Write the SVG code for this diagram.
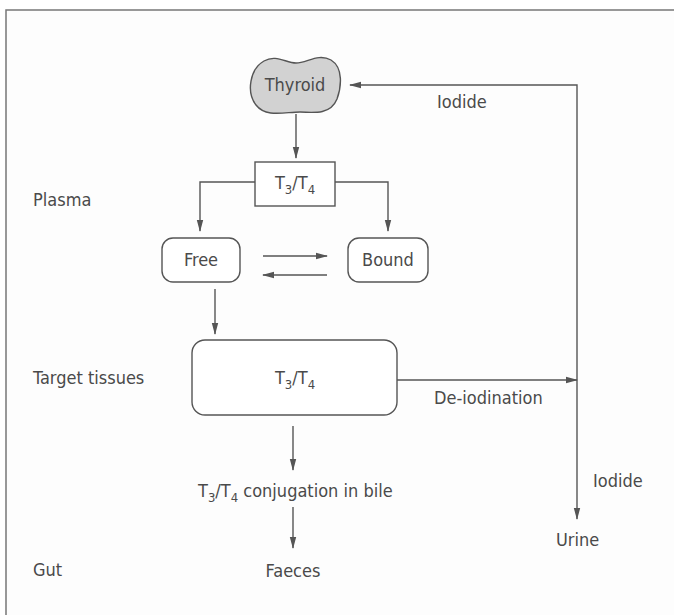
<svg xmlns="http://www.w3.org/2000/svg" width="674" height="615" viewBox="0 0 674 615">
<defs>
<marker id="ah" markerWidth="12" markerHeight="8" refX="11" refY="4" orient="auto" markerUnits="userSpaceOnUse">
<path d="M0,0.8 L12,4 L0,7.2 Z" fill="#555"/>
</marker>
<style>
text{font-family:"Liberation Sans Narrow","DejaVu Sans Condensed","Liberation Sans",sans-serif;font-size:18px;fill:#4a4a4a}
.c{text-anchor:middle}
.ln{fill:none;stroke:#555;stroke-width:1.4}
.bx{fill:#fff;stroke:#555;stroke-width:1.4}
.sub{font-size:13px}
</style>
</defs>
<rect x="0" y="0" width="674" height="615" fill="#fff"/>
<rect x="6" y="10" width="690" height="620" fill="#fdfdfd" stroke="#777" stroke-width="1.5"/>

<g id="labels">
<text x="33" y="206">Plasma</text>
<text x="33" y="384">Target tissues</text>
<text x="33" y="576">Gut</text>
</g>

<g id="connectors">
<path class="ln" d="M296,114 L296,158" marker-end="url(#ah)"/>
<path class="ln" d="M255,182 L200,182 L200,231" marker-end="url(#ah)"/>
<path class="ln" d="M335,182 L388,182 L388,231" marker-end="url(#ah)"/>
<path class="ln" d="M263,256 L327,256" marker-end="url(#ah)"/>
<path class="ln" d="M327,275 L263,275" marker-end="url(#ah)"/>
<path class="ln" d="M215,289 L215,334" marker-end="url(#ah)"/>
<path class="ln" d="M397,380 L577,380" marker-end="url(#ah)"/>
<path class="ln" d="M577,380 L577,519" marker-end="url(#ah)"/>
<path class="ln" d="M577,380 L577,85 L350,85" marker-end="url(#ah)"/>
<path class="ln" d="M293,426 L293,470" marker-end="url(#ah)"/>
<path class="ln" d="M293,507 L293,548" marker-end="url(#ah)"/>
<text x="437" y="108">Iodide</text>
<text x="434" y="404">De-iodination</text>
<text x="593" y="487">Iodide</text>
</g>

<g id="thyroid">
<path d="M264,61 C276,54 286,63 296,63 C307,63 318,53 331,60 C344,68 341,88 337,99 C331,114 316,113 300,112 C285,112 266,118 256,105 C246,92 250,69 264,61 Z" fill="#d2d2d2" stroke="#555" stroke-width="1.4"/>
<text class="c" x="295" y="91">Thyroid</text>
</g>

<g id="t3t4-plasma">
<rect class="bx" x="255" y="162" width="80" height="44"/>
<text class="c" x="295" y="189">T<tspan class="sub" dy="5">3</tspan><tspan dy="-5">/T</tspan><tspan class="sub" dy="5">4</tspan></text>
</g>

<g id="free">
<rect class="bx" x="162" y="238" width="78" height="44" rx="11"/>
<text class="c" x="201" y="266">Free</text>
</g>

<g id="bound">
<rect class="bx" x="348" y="238" width="80" height="44" rx="11"/>
<text class="c" x="388" y="266">Bound</text>
</g>

<g id="target">
<rect class="bx" x="192" y="340" width="205" height="75" rx="13"/>
<text class="c" x="295" y="384">T<tspan class="sub" dy="5">3</tspan><tspan dy="-5">/T</tspan><tspan class="sub" dy="5">4</tspan></text>
</g>

<g id="conjugation">
<text x="198" y="497">T<tspan class="sub" dy="5">3</tspan><tspan dy="-5">/T</tspan><tspan class="sub" dy="5">4</tspan><tspan dy="-5"> conjugation in bile</tspan></text>
</g>

<g id="faeces">
<text class="c" x="293" y="577">Faeces</text>
</g>

<g id="urine">
<text x="556" y="546">Urine</text>
</g>
</svg>
